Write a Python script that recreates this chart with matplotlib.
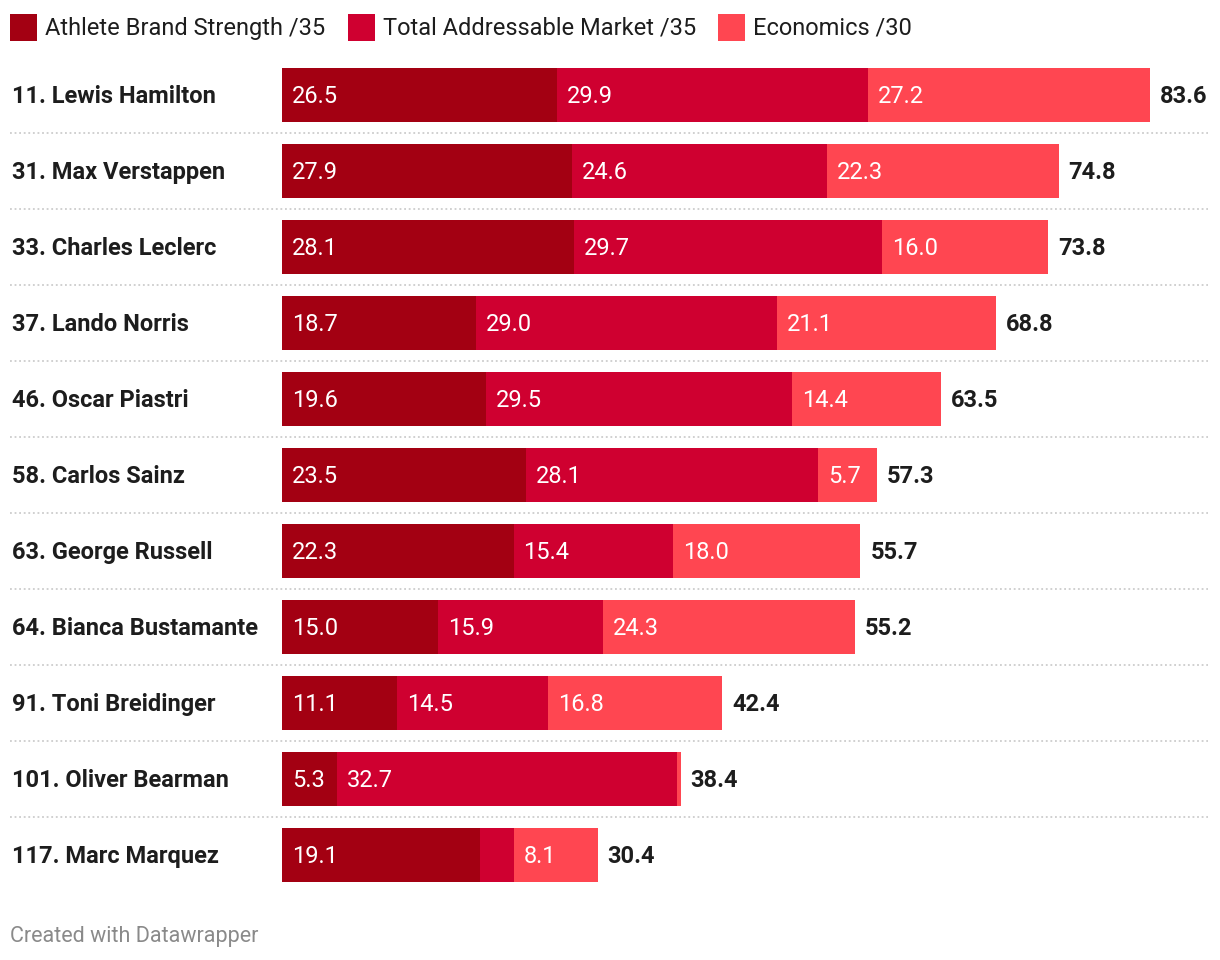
import matplotlib
matplotlib.use("Agg")
import matplotlib.pyplot as plt
import matplotlib.transforms as mtransforms
from matplotlib.patches import Rectangle
from matplotlib.lines import Line2D

plt.rcParams['font.family'] = ['Roboto', 'DejaVu Sans']

athletes = ["11. Lewis Hamilton", "31. Max Verstappen", "33. Charles Leclerc",
            "37. Lando Norris", "46. Oscar Piastri", "58. Carlos Sainz",
            "63. George Russell", "64. Bianca Bustamante", "91. Toni Breidinger",
            "101. Oliver Bearman", "117. Marc Marquez"]
brand = [26.5, 27.9, 28.1, 18.7, 19.6, 23.5, 22.3, 15.0, 11.1, 5.3, 19.1]
market = [29.9, 24.6, 29.7, 29.0, 29.5, 28.1, 15.4, 15.9, 14.5, 32.7, 3.2]
economics = [27.2, 22.3, 16.0, 21.1, 14.4, 5.7, 18.0, 24.3, 16.8, 0.4, 8.1]
totals = [83.6, 74.8, 73.8, 68.8, 63.5, 57.3, 55.7, 55.2, 42.4, 38.4, 30.4]
series_names = ["Athlete Brand Strength /35", "Total Addressable Market /35", "Economics /30"]
colors = ["#a30012", "#cf0030", "#ff4651"]

W, H = 1220, 960
fig = plt.figure(figsize=(W / 100, H / 100), dpi=100)
fig.patch.set_facecolor("white")

x0_px, x1_px = 282, 1208
px_per_unit = 868 / 83.6
ax = fig.add_axes([x0_px / W, 0, (x1_px - x0_px) / W, 1])
ax.set_xlim(0, (x1_px - x0_px) / px_per_unit)
row0, step = 95, 76
ax.set_ylim((H - row0) / step, -row0 / step)
ax.axis("off")

bar_h = 54 / step
ys = list(range(len(athletes)))
series = [brand, market, economics]
lefts = [0.0] * len(athletes)
min_label = 4.0
dy = -0.015
for s, (vals, col) in enumerate(zip(series, colors)):
    ax.barh(ys, vals, left=lefts, height=bar_h, color=col, linewidth=0)
    for i, v in enumerate(vals):
        if v >= min_label:
            ax.text(lefts[i] + 10 / px_per_unit, i + dy, f"{v:.1f}", color="white",
                    fontsize=17, va="center_baseline", ha="left")
    lefts = [l + v for l, v in zip(lefts, vals)]

for i, t in enumerate(totals):
    ax.text(lefts[i] + 10 / px_per_unit, i + dy, f"{t:.1f}", color="#1d1d1d",
            fontsize=17, fontweight="bold", va="center_baseline", ha="left")

blend = mtransforms.blended_transform_factory(fig.transFigure, ax.transData)
for i, name in enumerate(athletes):
    ax.text(12 / W, i + dy, name, transform=blend, color="#1d1d1d", fontsize=17,
            fontweight="bold", va="center_baseline", ha="left")
for i in range(len(athletes) - 1):
    ax.add_line(Line2D([10 / W, 1208 / W], [i + 0.5, i + 0.5], transform=blend,
                       color="#c4c4c4", linewidth=1.1, linestyle=(0, (1.2, 1.8)),
                       clip_on=False))

# legend
leg_sq_x = [10, 348, 718]
for name, col, lx in zip(series_names, colors, leg_sq_x):
    fig.add_artist(Rectangle((lx / W, 1 - 41 / H), 27 / W, 27 / H,
                             transform=fig.transFigure, color=col, linewidth=0))
    fig.text((lx + 35) / W, 1 - 25.5 / H, name, fontsize=17, color="#1d1d1d",
             va="center_baseline", ha="left")

fig.text(10 / W, 1 - 934 / H, "Created with Datawrapper", fontsize=15.5,
         color="#8a8a8a", va="center_baseline", ha="left")

fig.savefig("out.png", dpi=100, facecolor="white")
